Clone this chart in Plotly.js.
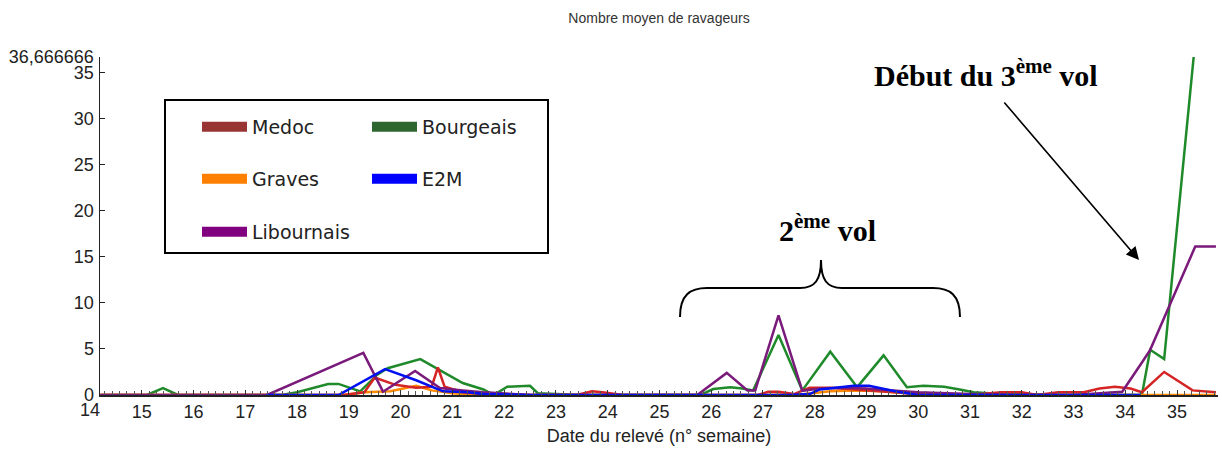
<!DOCTYPE html>
<html>
<head>
<meta charset="utf-8">
<script src="https://cdn.plot.ly/plotly-3.0.1.min.js"></script>
<style>html,body{margin:0;padding:0;background:#fff;}#chart{width:1222px;height:455px;}</style>
</head>
<body>
<div id="chart"></div>
<script>
// ---- Data (week number, mean number of pests) ----
const seriesNames = ["Medoc", "Bourgeais", "Graves", "E2M", "Libournais"];

const medocWeeks = [14.2, 15.0, 16.0, 17.0, 18.0, 18.9, 19.3, 19.5, 19.9, 20.3, 20.6, 20.72, 20.85, 21.2, 21.6, 22.5, 23.4, 23.7, 23.9, 24.3, 25.0, 26.0, 26.9, 27.1, 27.3, 27.6, 27.9, 28.3, 28.8, 29.3, 29.8, 30.3, 31.0, 31.6, 32.0, 32.3, 32.7, 33.2, 33.5, 33.8, 34.1, 34.32, 34.75, 35.3, 35.75];
const medocValues = [0, 0, 0, 0, 0, 0, 0.3, 1.9, 1.1, 0.8, 0.9, 3.0, 0.9, 0.3, 0.1, 0, 0, 0.4, 0.3, 0, 0, 0, 0, 0.35, 0.35, 0.1, 0.8, 0.8, 0.6, 0.4, 0.2, 0.1, 0, 0.3, 0.3, 0, 0.3, 0.3, 0.7, 0.9, 0.7, 0.3, 2.5, 0.5, 0.3];

const bourgeaisWeeks = [14.2, 15.1, 15.41, 15.7, 16.5, 17.7, 18.0, 18.6, 18.8, 19.22, 19.55, 19.75, 20.38, 20.7, 21.2, 21.6, 21.8, 22.06, 22.5, 22.65, 23.5, 25.0, 25.79, 26.04, 26.37, 26.6, 26.81, 27.3, 27.76, 28.3, 28.82, 29.33, 29.78, 30.1, 30.5, 30.8, 31.07, 31.6, 33.0, 34.32, 34.48, 34.75, 35.32];
const bourgeaisValues = [0, 0, 0.75, 0, 0, 0, 0.3, 1.2, 1.2, 0.4, 2.2, 2.9, 3.9, 2.9, 1.3, 0.6, 0, 0.9, 1.0, 0.2, 0, 0, 0, 0.65, 0.85, 0.7, 0.5, 6.5, 0.5, 4.7, 0.85, 4.3, 0.85, 1.0, 0.9, 0.6, 0.3, 0.1, 0, 0, 4.9, 3.9, 36.666666];

const gravesWeeks = [14.2, 16.0, 18.0, 18.9, 19.3, 19.8, 20.3, 20.6, 21.0, 21.5, 23.0, 25.0, 27.0, 27.8, 28.3, 28.8, 29.3, 29.8, 30.5, 32.0, 34.3, 34.8, 35.75];
const gravesValues = [0, 0, 0, 0, 0.3, 0.4, 1.0, 0.5, 0.2, 0, 0, 0, 0, 0.1, 0.4, 0.5, 0.4, 0.2, 0, 0, 0, 0, 0];

const e2mWeeks = [17.4, 18.8, 19.7, 20.3, 20.82, 21.3, 21.6, 22.5, 24.0, 26.0, 27.5, 27.9, 28.1, 28.75, 29.05, 29.3, 29.6, 30.0, 31.0, 33.0, 34.3];
const e2mValues = [0, 0, 2.8, 1.6, 0.4, 0.3, 0.1, 0, 0, 0, 0, 0.1, 0.6, 1.0, 1.0, 0.7, 0.35, 0, 0, 0, 0];

const libournaisWeeks = [14.2, 15.0, 16.0, 17.0, 17.42, 19.28, 19.66, 20.28, 20.76, 21.2, 21.6, 22.5, 24.0, 25.0, 25.73, 26.3, 26.7, 26.85, 27.3, 27.76, 28.1, 28.5, 29.0, 29.5, 30.0, 31.0, 32.0, 33.0, 33.94, 34.33, 34.48, 35.35, 35.75];
const libournaisValues = [0, 0, 0, 0, 0, 4.57, 0.36, 2.6, 0.75, 0.5, 0.3, 0, 0, 0, 0, 2.4, 0.5, 0.5, 8.65, 0.45, 0.7, 0.8, 0.7, 0.5, 0.3, 0.1, 0, 0, 0.36, 3.6, 4.9, 16.1, 16.1];

const xTickValues = [15, 16, 17, 18, 19, 20, 21, 22, 23, 24, 25, 26, 27, 28, 29, 30, 31, 32, 33, 34, 35];
const xTickLabels = xTickValues.map(String);
const firstWeekLabel = "14";
const yTickValues = [0, 5, 10, 15, 20, 25, 30, 35, 36.666666];
const yTickLabels = ["0", "5", "10", "15", "20", "25", "30", "35", "36,666666"];

// ---- Styling ----
const lineColors = {Medoc: "#D42424", Bourgeais: "#1F8A2A", Graves: "#FF8A00", E2M: "#0010F0", Libournais: "#7A1A7A"};
const legendColors = {Medoc: "#993434", Bourgeais: "#2E6630", Graves: "#FF8000", E2M: "#0000FF", Libournais: "#800080"};

const W = 1222, H = 455;
const M = {l: 100, r: 4, t: 57, b: 60};
const PW = W - M.l - M.r, PH = H - M.t - M.b;
const pxX = v => (v - M.l) / PW;            // pixel -> paper x
const pxY = v => (H - M.b - v) / PH;        // pixel -> paper y

const dataMap = {
  Medoc: [medocWeeks, medocValues],
  Bourgeais: [bourgeaisWeeks, bourgeaisValues],
  Graves: [gravesWeeks, gravesValues],
  E2M: [e2mWeeks, e2mValues],
  Libournais: [libournaisWeeks, libournaisValues]
};

const drawOrder = ["Bourgeais", "Graves", "Medoc", "Libournais", "E2M"];
const traces = drawOrder.map(n => ({
  type: "scatter", mode: "lines", name: n,
  x: dataMap[n][0], y: dataMap[n][1],
  line: {color: lineColors[n], width: 2.5},
  showlegend: false, hoverinfo: "x+y+name"
}));

// legend entries (one legend per entry to reproduce the 2-column boxed layout)
const legendIds = {Medoc: "legend", Bourgeais: "legend2", Graves: "legend3", E2M: "legend4", Libournais: "legend5"};
seriesNames.forEach(n => {
  traces.push({
    type: "scatter", mode: "lines", name: n, x: [null], y: [null],
    line: {color: legendColors[n], width: 10},
    showlegend: true, legend: legendIds[n], hoverinfo: "skip"
  });
});

const legendFont = {family: "DejaVu Sans, Verdana, sans-serif", size: 19, color: "#222"};
function legendAt(px, py) {
  return {x: pxX(px), y: pxY(py), xanchor: "left", yanchor: "middle",
          bgcolor: "rgba(0,0,0,0)", borderwidth: 0, font: legendFont, itemwidth: 45, itemclick: false};
}

const tickFont = {family: "Liberation Sans, Arial, sans-serif", size: 18, color: "#222"};
const boldSerif = {family: "Liberation Serif, Times New Roman, serif", size: 30, color: "#000"};

// curly brace above the 2nd flight
const braceP = [[680,317],[680,295],[690,288],[707,288],[800,288],[815,288],[821,280],[821,260],[821,280],[827,288],[842,288],[933,288],[950,288],[960,295],[960,317]];
const c = i => pxX(braceP[i][0]).toFixed(5) + "," + pxY(braceP[i][1]).toFixed(5);
const bracePath = "M" + c(0) + " C" + c(1) + " " + c(2) + " " + c(3) + " L" + c(4) +
  " C" + c(5) + " " + c(6) + " " + c(7) + " C" + c(8) + " " + c(9) + " " + c(10) +
  " L" + c(11) + " C" + c(12) + " " + c(13) + " " + c(14);

const layout = {
  width: W, height: H,
  margin: M,
  paper_bgcolor: "#fff", plot_bgcolor: "#fff",
  title: {text: "Nombre moyen de ravageurs", x: 0.5, xref: "paper", y: 1 - 18 / H, yanchor: "middle",
          font: {family: "Liberation Sans, Arial, sans-serif", size: 14, color: "#333"}},
  xaxis: {
    range: [14.193, 35.79], showgrid: false, zeroline: false,
    tickmode: "array", tickvals: xTickValues, ticktext: xTickLabels,
    ticks: "inside", ticklen: 5, tickcolor: "#333", tickwidth: 1,
    minor: {dtick: 1 / 7, ticks: "inside", ticklen: 4, tickcolor: "#555", showgrid: false},
    showline: true, linecolor: "#222", linewidth: 1.5,
    tickfont: tickFont, automargin: false,
    title: {text: "Date du relevé (n° semaine)", standoff: 8,
            font: {family: "Liberation Sans, Arial, sans-serif", size: 18, color: "#222"}}
  },
  yaxis: {
    range: [0, 36.666666], showgrid: false, zeroline: false,
    tickmode: "array", tickvals: yTickValues, ticktext: yTickLabels,
    ticks: "inside", ticklen: 5, tickcolor: "#222", tickwidth: 1,
    showline: true, linecolor: "#222", linewidth: 1.5,
    tickfont: tickFont, automargin: false, ticklabelstandoff: 1
  },
  legend: legendAt(197, 127),
  legend2: legendAt(367, 127),
  legend3: legendAt(197, 179),
  legend4: legendAt(367, 179),
  legend5: legendAt(197, 232),
  shapes: [
    {type: "rect", xref: "paper", yref: "paper", x0: pxX(165), x1: pxX(548), y0: pxY(253), y1: pxY(100),
     line: {color: "#000", width: 2}, fillcolor: "rgba(255,255,255,0)", layer: "above"},
    {type: "path", xref: "paper", yref: "paper", path: bracePath, line: {color: "#000", width: 2}}
  ],
  annotations: [
    {xref: "paper", yref: "paper", x: pxX(90), y: 0, yanchor: "top", xanchor: "center", yshift: -3,
     text: firstWeekLabel, showarrow: false, font: tickFont},
    {xref: "paper", yref: "paper", x: pxX(827), y: pxY(228), xanchor: "center", yanchor: "middle",
     text: "<b>2<sup>ème</sup> vol</b>", showarrow: false, font: boldSerif},
    {xref: "paper", yref: "paper", x: pxX(985.5), y: pxY(73), xanchor: "center", yanchor: "middle",
     text: "<b>Début du 3<sup>ème</sup> vol</b>", showarrow: false, font: boldSerif},
    {xref: "paper", yref: "paper", x: pxX(1139), y: pxY(260), ax: 1003 - 1139, ay: 101 - 260,
     text: "", showarrow: true, arrowhead: 2, arrowsize: 1.6, arrowwidth: 1.6, arrowcolor: "#000"}
  ]
};

Plotly.newPlot("chart", traces, layout, {staticPlot: true, displayModeBar: false});
</script>
</body>
</html>
